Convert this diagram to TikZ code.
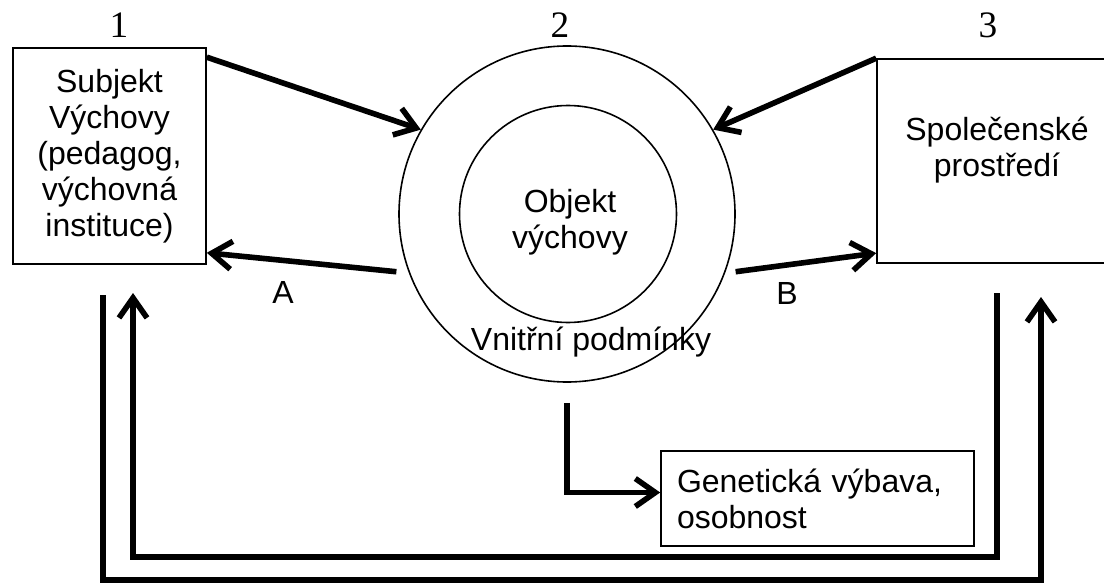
\documentclass[tikz,border=0pt]{standalone}
\usepackage{fontspec}
\setmainfont{Liberation Sans}
\newfontfamily\numfont{Liberation Serif}
\usetikzlibrary{arrows.meta,calc}

\tikzset{every picture/.style={line width=1.2pt}}
\tikzset{
  box/.style={draw, rectangle, inner sep=0pt, align=center, font=\fontsize{24}{27}\selectfont},
  ring/.style={draw, circle, inner sep=0pt},
  lbl/.style={inner sep=0.75pt, align=center, font=\fontsize{24}{27}\selectfont},
  num/.style={inner sep=0.75pt, font=\numfont\fontsize{28}{30}\selectfont},
  barb/.style={-{Straight Barb[length=15pt,width=21pt]}},
  flow/.style={line width=4.2pt, barb},
  loopline/.style={line width=4.2pt},
}

\begin{document}
\begin{tikzpicture}[x=0.75pt,y=0.75pt,yscale=-1,xscale=1]
\clip (0,0) rectangle (1104,585);

%Shape: Rectangle [subjekt]
\node (subj) at (109.5,156) [box, minimum width=144.75pt, minimum height=162pt] {Subjekt\\Výchovy\\(pedagog,\\výchovná\\instituce)};
%Shape: Circle [outer]
\node (outer) at (567,214) [ring, minimum size=252pt] {};
%Shape: Circle [inner]
\node (inner) at (568,214) [ring, minimum size=162.75pt] {};
%Shape: Rectangle [prostredi]
\node (env) at (997.5,161) [box, minimum width=180.75pt, minimum height=153pt] {};
%Shape: Rectangle [geneticka]
\node (gen) at (817.5,498.5) [box, align=left, minimum width=234.75pt, minimum height=71.25pt, text width=210.75pt, inner xsep=12pt] {Genetická výbava,\\osobnost};

% Text Node
\node (objtxt) at (570,222) [lbl] {Objekt\\výchovy};
% Text Node
\node (envtxt) at (997,150) [lbl] {Společenské\\prostředí};
% Text Node
\node (vnitr) at (591,342) [lbl] {Vnitřní podmínky};
% Text Node
\node (lA) at (283,292) [lbl] {A};
% Text Node
\node (lB) at (787,293) [lbl] {B};
% Text Node
\node (n1) at (119,25.5) [num] {1};
% Text Node
\node (n2) at (560,25.5) [num] {2};
% Text Node
\node (n3) at (988,25.5) [num] {3};

%Straight Lines [arrows to and from the object]
\draw [flow] ([yshift=7.5pt]subj.north east) -- (outer.150);
\draw [flow] ([xshift=-9pt]outer.200) -- ([yshift=-9pt]subj.south east);
\draw [flow] (env.north west) -- (outer.30);
\draw [flow] ([xshift=7.5pt]outer.340) -- ([yshift=-8pt]env.south west);
\draw [flow] ([yshift=15pt]outer.south) |- ([yshift=-4.5pt]gen.west);

%Straight Lines [feedback loops]
\coordinate (inR) at (997,293);
\coordinate (inL) at (133,293);
\coordinate (inbot) at (0,557);
\coordinate (outL) at (103,295);
\coordinate (outR) at (1041,297);
\coordinate (outbot) at (0,580);
\draw [loopline, barb] (inR) -- (inR |- inbot) -- (inL |- inbot) -- (inL);
\draw [loopline, barb] (outL) -- (outL |- outbot) -- (outR |- outbot) -- (outR);

\end{tikzpicture}
\end{document}
